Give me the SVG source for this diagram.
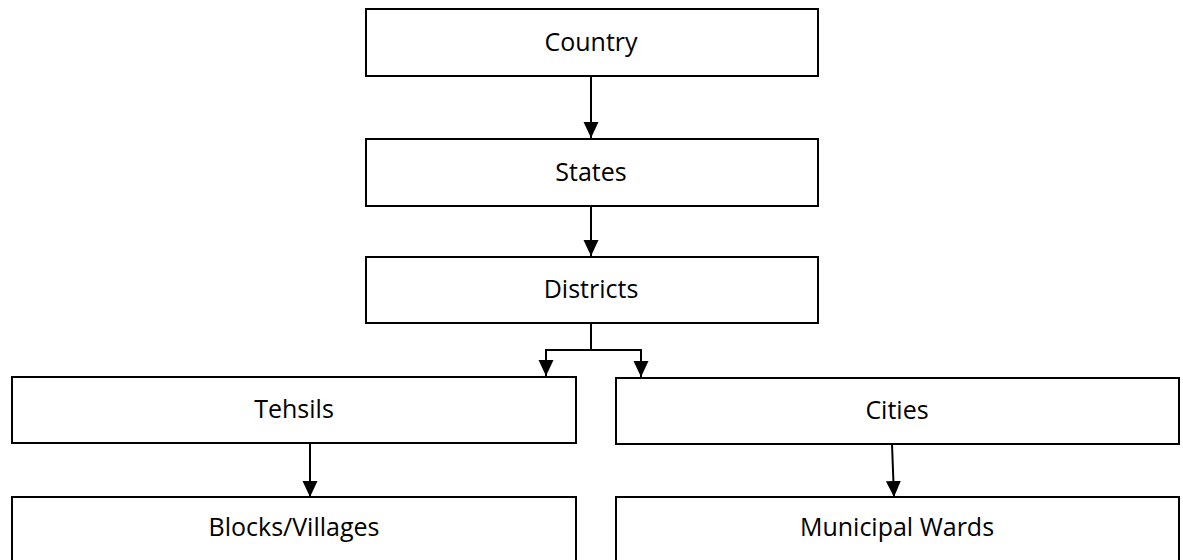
<svg xmlns="http://www.w3.org/2000/svg" width="1183" height="560" viewBox="0 0 1183 560">
<style>
.box{fill:#fff;stroke:#000;stroke-width:2}
.lbl{font-family:"Open Sans","Liberation Sans",sans-serif;font-size:25px;fill:#000;text-anchor:middle}
.con{fill:none;stroke:#000;stroke-width:2}
</style>
<defs>
<marker id="ah" markerUnits="userSpaceOnUse" markerWidth="16" markerHeight="16" refX="16" refY="8" orient="auto">
<path d="M0,0.5 L16,8 L0,15.5 z" fill="#000"/>
</marker>
</defs>
<rect width="1183" height="560" fill="#fff"/>
<g id="country"><rect class="box" x="366" y="9" width="452" height="67"/><text class="lbl" x="591" y="51">Country</text></g>
<g id="states"><rect class="box" x="366" y="139" width="452" height="67"/><text class="lbl" x="591" y="181">States</text></g>
<g id="districts"><rect class="box" x="366" y="257" width="452" height="66"/><text class="lbl" x="591" y="298">Districts</text></g>
<g id="tehsils"><rect class="box" x="12" y="377" width="564" height="66"/><text class="lbl" x="294" y="418">Tehsils</text></g>
<g id="cities"><rect class="box" x="616" y="378" width="563" height="66"/><text class="lbl" x="897" y="419">Cities</text></g>
<g id="blocks"><rect class="box" x="12" y="497" width="564" height="80"/><text class="lbl" x="294" y="536">Blocks/Villages</text></g>
<g id="wards"><rect class="box" x="616" y="497" width="563" height="80"/><text class="lbl" x="897" y="536">Municipal Wards</text></g>
<g id="connectors">
<line class="con" x1="591" y1="76" x2="591" y2="138" marker-end="url(#ah)"/>
<line class="con" x1="591" y1="206" x2="591" y2="256" marker-end="url(#ah)"/>
<polyline class="con" points="591,323 591,350"/>
<polyline class="con" points="591,350 546,350 546,376" marker-end="url(#ah)"/>
<polyline class="con" points="591,350 641,350 641,377" marker-end="url(#ah)"/>
<line class="con" x1="310" y1="443" x2="310" y2="497" marker-end="url(#ah)"/>
<line class="con" x1="892" y1="444" x2="894" y2="497" marker-end="url(#ah)"/>
</g>
</svg>
